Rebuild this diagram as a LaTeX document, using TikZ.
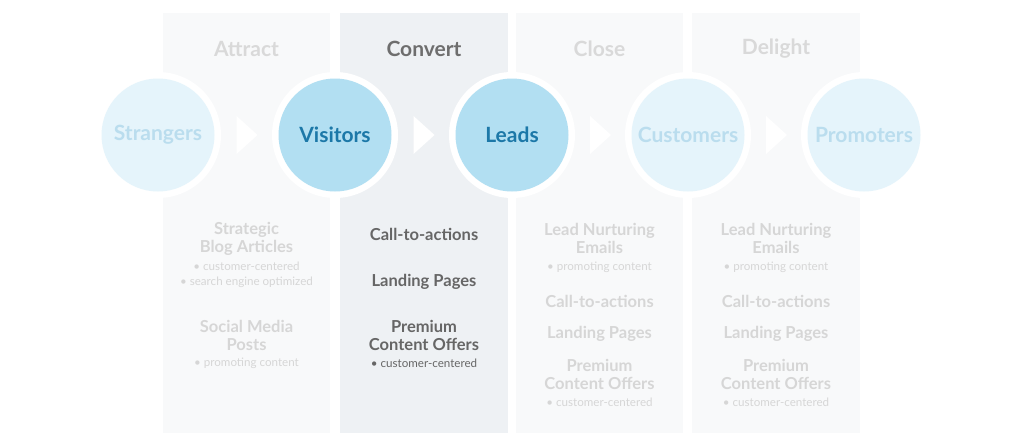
\documentclass[tikz,border=0pt]{standalone}
\usepackage{fontspec}
\setmainfont{Lato}
\usetikzlibrary{calc}
\definecolor{colFade}{HTML}{F8F9FA}
\definecolor{colConv}{HTML}{EEF1F4}
\definecolor{circLight}{HTML}{E5F4FB}
\definecolor{circDark}{HTML}{B2DFF2}
\definecolor{lblDark}{HTML}{1C78A8}
\definecolor{lblLight}{HTML}{BADDEE}
\definecolor{headFade}{HTML}{D9D9D9}
\definecolor{headDark}{HTML}{6E6E6E}
\definecolor{bodyFade}{HTML}{D6D6D6}
\definecolor{bodyDark}{HTML}{666666}
\tikzset{
  colbox/.style={fill=colFade, draw=none},
  colboxon/.style={fill=colConv, draw=none},
  ring/.style={circle, fill=white, minimum size=126pt, inner sep=0pt},
  stage/.style={circle, fill=circLight, minimum size=113pt, inner sep=0pt, text=lblLight, font=\fontsize{21}{24}\selectfont\bfseries},
  stageon/.style={stage, fill=circDark, text=lblDark},
  head/.style={text=headFade, font=\fontsize{21}{24}\selectfont\bfseries},
  headon/.style={head, text=headDark},
  item/.style={text=bodyFade, align=center, font=\fontsize{16.5}{18}\selectfont\bfseries},
  itemon/.style={item, text=bodyDark},
  bul/.style={text=bodyFade, align=center, font=\fontsize{11.6}{15}\selectfont},
  bulon/.style={bul, text=bodyDark},
  arrowfill/.style={fill=white, draw=none}
}
\begin{document}
\begin{tikzpicture}[x=1pt,y=-1pt]
\useasboundingbox (0,0) rectangle (1024,447);
\fill[white] (0,0) rectangle (1024,447);
% columns
\fill[colbox] (163,13) rectangle (330,433);
\fill[colboxon] (340,13) rectangle (508,433);
\fill[colbox] (516,13) rectangle (683,433);
\fill[colbox] (692,13) rectangle (860,433);
% headers
\node[head] (hA) at (246.5,49) {Attract};
\node[headon] (hC) at (424,49) {Convert};
\node[head] (hL) at (599.5,49) {Close};
\node[head] (hD) at (776,49) {Delight};
% rings
\foreach \x in {158,335,512,688,864} \node[ring] at (\x,135) {};
% stages
\node[stage] (s) at (158,135) {Strangers};
\node[stageon] (v) at (335,135) {Visitors};
\node[stageon] (l) at (512,135) {Leads};
\node[stage] (c) at (688,135) {Customers};
\node[stage] (p) at (864,135) {Promoters};
% arrows
\foreach \a/\b in {s/v, v/l, l/c, c/p}
  \fill[arrowfill] ($(\a)!0.5!(\b)+(-10,-19)$) -- ++(21,19) -- ++(-21,19) -- cycle;
% Attract
\node[item] (a1) at (246.5,238.5) {Strategic\\Blog Articles};
\node[bul] (a2) at (246.5,274.5) {• customer-centered\\• search engine optimized};
\node[item] (a3) at (246.5,335) {Social Media\\Posts};
\node[bul] (a4) at (246.5,363) {• promoting content};
% Convert
\node[itemon] (b1) at (424,234) {Call-to-actions};
\node[itemon] (b2) at (424,282) {Landing Pages};
\node[itemon] (b3) at (424,335) {Premium\\Content Offers};
\node[bulon] (b4) at (424,363) {• customer-centered};
% Close and Delight
\foreach \x/\n in {599.5/c, 776/d} {
  \node[item] (\n1) at (\x,238.5) {Lead Nurturing\\Emails};
  \node[bul] (\n2) at (\x,267) {• promoting content};
  \node[item] (\n3) at (\x,301) {Call-to-actions};
  \node[item] (\n4) at (\x,334) {Landing Pages};
  \node[item] (\n5) at (\x,374) {Premium\\Content Offers};
  \node[bul] (\n6) at (\x,402) {• customer-centered};
}
\end{tikzpicture}
\end{document}
